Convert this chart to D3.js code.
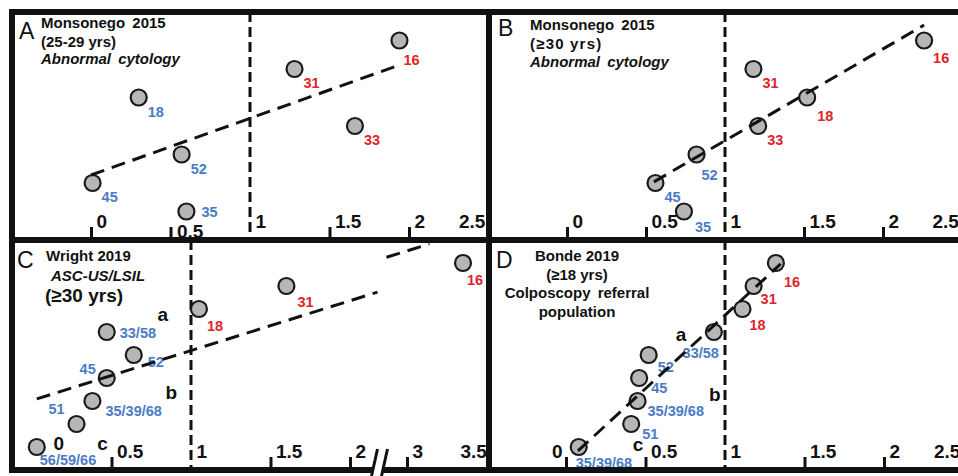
<!DOCTYPE html>
<html>
<head>
<meta charset="utf-8">
<script src="https://cdn.jsdelivr.net/npm/d3@7"></script>
<style>
  html, body { margin: 0; padding: 0; background: #fff; }
  svg { display: block; font-family: "Liberation Sans", Arial, sans-serif; }
</style>
</head>
<body>
<svg id="chart" width="958" height="476"></svg>
<script>
// ---- data: HPV genotype, relative value (x) and rank (y) per study ----
const genotypesA = ["35", "45", "52", "33", "18", "31", "16"];
const valuesA    = [0.60, 0.01, 0.57, 1.66, 0.30, 1.28, 1.94];
const ranksA     = [1, 2, 3, 4, 5, 6, 7];
const trendA     = [[0.00, 2.28], [1.94, 6.14]];
const titleA     = ["Monsonego 2015", "(25-29 yrs)", "Abnormal cytology"];

const genotypesB = ["35", "45", "52", "33", "18", "31", "16"];
const valuesB    = [0.74, 0.56, 0.82, 1.21, 1.52, 1.18, 2.26];
const ranksB     = [1, 2, 3, 4, 5, 6, 7];
const trendB     = [[0.55, 2.04], [2.26, 7.54]];
const titleB     = ["Monsonego 2015", "(\u226530 yrs)", "Abnormal cytology"];

const genotypesC = ["56/59/66", "51", "35/39/68", "45", "52", "33/58", "18", "31", "16"];
const valuesC    = [0.03, 0.28, 0.38, 0.47, 0.64, 0.47, 1.05, 1.60, 3.35];
const ranksC     = [1, 2, 3, 4, 5, 6, 7, 8, 9];
const trendC     = [[0.03, 3.09], [3.14, 9.83]];
const titleC     = ["Wright 2019", "ASC-US/LSIL", "(\u226530 yrs)"];
const groupsC    = [["a", 0.79, 6.48], ["b", 0.84, 3.09], ["c", 0.41, 0.87]];

const genotypesD = ["35/39/68", "51", "35/39/68", "45", "52", "33/58", "18", "31", "16"];
const valuesD    = [0.08, 0.41, 0.45, 0.46, 0.52, 0.93, 1.11, 1.18, 1.32];
const ranksD     = [1, 2, 3, 4, 5, 6, 7, 8, 9];
const trendD     = [[0.075, 0.83], [1.35, 8.96]];
const titleD     = ["Bonde 2019", "(\u226518 yrs)", "Colposcopy referral", "population"];
const groupsD    = [["a", 0.69, 5.61], ["b", 0.90, 3.00], ["c", 0.42, 0.83]];

const ticksTop    = [0, 0.5, 1, 1.5, 2, 2.5];
const ticksC      = [0, 0.5, 1, 1.5, 2, 3, 3.5];
const referenceX  = 1;

// ---- layout ----
const BLUE = "#4a7cc4", RED = "#e0252b", INK = "#111";
const svg = d3.select("#chart");
const FRAME = { left: 12, top: 12, midX: 489, midY: 240, bottom: 470 };

const panels = [
  { id: "A", names: genotypesA, xs: valuesA, ys: ranksA, trend: trendA, title: titleA,
    left: FRAME.left, right: FRAME.midX, top: FRAME.top, bottom: FRAME.midY,
    x: d3.scaleLinear().domain([0, 1]).range([91, 250]),
    y: d3.scaleLinear().domain([0, 8]).range([FRAME.midY, FRAME.midY - 228]),
    ticks: ticksTop, hideTicks: [1, 2.5] },
  { id: "B", names: genotypesB, xs: valuesB, ys: ranksB, trend: trendB, title: titleB,
    left: FRAME.midX, right: 958, top: FRAME.top, bottom: FRAME.midY,
    x: d3.scaleLinear().domain([0, 1]).range([567, 725]),
    y: d3.scaleLinear().domain([0, 8]).range([FRAME.midY, FRAME.midY - 228]),
    ticks: ticksTop, hideTicks: [1, 2.5] },
  { id: "C", names: genotypesC, xs: valuesC, ys: ranksC, trend: trendC, title: titleC, groups: groupsC,
    left: FRAME.left, right: FRAME.midX, top: FRAME.midY, bottom: FRAME.bottom,
    x: d3.scaleLinear().domain([0, 2, 3, 3.5]).range([32, 350, 407, 487]),
    xLow: d3.scaleLinear().domain([0, 2]).range([32, 350]),
    xHigh: d3.scaleLinear().domain([3, 3.5]).range([407, 487]),
    y: d3.scaleLinear().domain([0, 10]).range([FRAME.bottom, FRAME.midY]),
    ticks: ticksC, hideTicks: [0, 1, 3.5], broken: true },
  { id: "D", names: genotypesD, xs: valuesD, ys: ranksD, trend: trendD, title: titleD, groups: groupsD,
    left: FRAME.midX, right: 958, top: FRAME.midY, bottom: FRAME.bottom,
    x: d3.scaleLinear().domain([0, 1]).range([566, 725]),
    y: d3.scaleLinear().domain([0, 10]).range([FRAME.bottom, FRAME.midY]),
    ticks: ticksTop, hideTicks: [1, 2.5] }
];

// label offsets relative to the circle centre (dx, dy baseline, anchor)
const labelNudge = {
  "A:35": [15, 5], "A:16": [4, 24],
  "B:52": [5, 25], "B:35": [11, 20], "B:18": [10, 23], "B:16": [9, 22],
  "C:56/59/66": [3, 18], "C:51": [-12, -10, "end"], "C:35/39/68": [13, 15],
  "C:45": [-11, -4, "end"], "C:52": [14, 12], "C:33/58": [13, 6],
  "C:18": [8, 22], "C:31": [11, 21], "C:16": [4, 22],
  "D:35/39/68#0": [-3, 21], "D:51": [11, 15], "D:35/39/68#2": [10, 15],
  "D:45": [12, 15], "D:52": [9, 17], "D:33/58": [5, 26, "end"],
  "D:18": [7, 21], "D:31": [7, 18], "D:16": [8, 24]
};
// tick label tweaks: [dx from tick, extra dy, anchor]
const tickNudge = {
  "A:0.5": [6, 10], "A:2.5": [-30, 0],
  "B:2.5": [-30, 0],
  "C:0": [21, -8], "C:3.5": [-27, 0],
  "D:0": [-4, 0, "end"], "D:2.5": [-30, 0]
};

const titleLayout = {
  A: { x: 41, ys: [28, 47, 64], anchor: "start", letter: [19, 39] },
  B: { x: 530, ys: [30, 49, 67], anchor: "start", letter: [498, 36] },
  C: { x: 46, ys: [261, 281, 302], anchor: "start", letter: [17, 268] },
  D: { x: 577, ys: [261, 280, 298, 317], anchor: "middle", letter: [496, 268] }
};

panels.forEach(p => {
  const g = svg.append("g").attr("class", "panel-" + p.id);

  // reference line at x = 1
  g.append("line")
    .attr("x1", p.x(referenceX)).attr("x2", p.x(referenceX))
    .attr("y1", p.top).attr("y2", p.bottom)
    .attr("stroke", INK).attr("stroke-width", 3).attr("stroke-dasharray", "10,5");

  // x axis (ticks point up from the panel floor)
  const axis = d3.axisTop(p.x).tickValues(p.ticks).tickSize(13).tickSizeOuter(0)
    .tickFormat(d => String(d));
  const ag = g.append("g").attr("transform", `translate(0,${p.bottom})`).call(axis);
  ag.select(".domain").remove();
  ag.selectAll(".tick line")
    .attr("stroke", INK).attr("stroke-width", 3)
    .attr("opacity", d => p.hideTicks.includes(d) ? 0 : 1);
  ag.selectAll(".tick text")
    .attr("fill", INK).attr("font-size", 19).attr("font-weight", "bold")
    .attr("font-family", "Liberation Sans, Arial, sans-serif")
    .attr("dy", 0)
    .each(function (d) {
      const n = tickNudge[p.id + ":" + d] || [5, 0];
      d3.select(this)
        .attr("x", n[0]).attr("y", -12 + n[1])
        .attr("text-anchor", n[2] || "start");
    });

  // genotype circles
  const pts = p.names.map((name, i) => ({ name, i, x: p.xs[i], y: p.ys[i] }));
  g.selectAll("circle.pt").data(pts).join("circle")
    .attr("class", "pt")
    .attr("cx", d => p.x(d.x)).attr("cy", d => p.y(d.y)).attr("r", 8)
    .attr("fill", "#b6b6b6").attr("stroke", "#1a1a1a").attr("stroke-width", 2.2);

  // genotype labels: blue below x = 1, red above
  g.selectAll("text.lbl").data(pts).join("text")
    .attr("class", "lbl")
    .each(function (d) {
      const n = labelNudge[p.id + ":" + d.name + "#" + d.i] || labelNudge[p.id + ":" + d.name] || [9, 19];
      d3.select(this)
        .attr("x", p.x(d.x) + n[0]).attr("y", p.y(d.y) + n[1])
        .attr("text-anchor", n[2] || "start");
    })
    .attr("font-size", 14.5).attr("font-weight", "bold")
    .attr("fill", d => d.x > referenceX ? RED : BLUE)
    .text(d => d.name);

  // group letters
  if (p.groups) {
    g.selectAll("text.grp").data(p.groups).join("text")
      .attr("class", "grp")
      .attr("x", d => p.x(d[1])).attr("y", d => p.y(d[2]))
      .attr("font-size", 19).attr("font-weight", "bold").attr("fill", INK)
      .text(d => d[0]);
  }

  // dashed trend line
  const line = (sx) => d3.line().x(d => sx(d[0])).y(d => p.y(d[1]));
  const trendStyle = sel => sel.attr("fill", "none").attr("stroke", INK)
    .attr("stroke-width", 3).attr("stroke-dasharray", "14,8");
  const [t0, t1] = p.trend;
  const at = xv => t0[1] + (t1[1] - t0[1]) * (xv - t0[0]) / (t1[0] - t0[0]);
  if (p.broken) {
    // the axis is broken between 2 and 3: draw each side with its own piece of the scale
    const breakPx = (p.xLow(2) + p.xHigh(3)) / 2;
    const xa = p.xLow.invert(breakPx - 1), xb = p.xHigh.invert(breakPx + 8);
    g.append("path").datum([t0, [xa, at(xa)]]).attr("d", line(p.xLow)).call(trendStyle);
    g.append("path").datum([[xb, at(xb)], t1]).attr("d", line(p.xHigh)).call(trendStyle);
  } else {
    g.append("path").datum(p.trend).attr("d", line(p.x)).call(trendStyle);
  }

  // title block
  const tl = titleLayout[p.id];
  g.append("text").attr("x", tl.letter[0]).attr("y", tl.letter[1])
    .attr("font-size", 23).attr("fill", INK).text(p.id);
  p.title.forEach((t, i) => {
    const txt = g.append("text").attr("x", tl.x).attr("y", tl.ys[i])
      .attr("text-anchor", tl.anchor).attr("fill", INK)
      .attr("font-size", 15).attr("font-weight", "bold")
      .text(t);
    if (/Monsonego|Colposcopy|cytology/.test(t)) txt.attr("word-spacing", 3);
    if (/cytology|ASC-US/.test(t)) txt.attr("font-style", "italic");
    if (p.id === "B" && i === 1) txt.attr("letter-spacing", 1.2);
    if (p.id === "C" && i === 1) txt.attr("x", tl.x + 5);
    if (p.id === "C" && i === 2) txt.attr("font-size", 19).attr("x", tl.x - 1);
  });
});

// frame: outer border and panel dividers
const frame = svg.append("g").attr("stroke", INK).attr("stroke-width", 6);
frame.append("line").attr("x1", 9).attr("x2", 958).attr("y1", FRAME.top).attr("y2", FRAME.top);
frame.append("line").attr("x1", 9).attr("x2", 958).attr("y1", FRAME.midY).attr("y2", FRAME.midY);
frame.append("line").attr("x1", 9).attr("x2", 958).attr("y1", FRAME.bottom).attr("y2", FRAME.bottom);
frame.append("line").attr("x1", FRAME.left).attr("x2", FRAME.left).attr("y1", 9).attr("y2", FRAME.bottom + 3);
frame.append("line").attr("x1", FRAME.midX).attr("x2", FRAME.midX).attr("y1", 9).attr("y2", FRAME.bottom + 3);

// axis break mark on panel C
const pc = panels[2];
const bx = (pc.xLow(2) + pc.xHigh(3)) / 2;
const by = FRAME.bottom;
svg.append("polygon")
  .attr("points", [[bx - 7, by + 5], [bx + 3, by + 5], [bx + 6, by - 5], [bx - 4, by - 5]].map(d => d.join(",")).join(" "))
  .attr("fill", "#fff");
[-7, 3].forEach(o => {
  svg.append("line")
    .attr("x1", bx + o).attr("y1", by + 6).attr("x2", bx + o + 6).attr("y2", by - 21)
    .attr("stroke", INK).attr("stroke-width", 3);
});
</script>
</body>
</html>
